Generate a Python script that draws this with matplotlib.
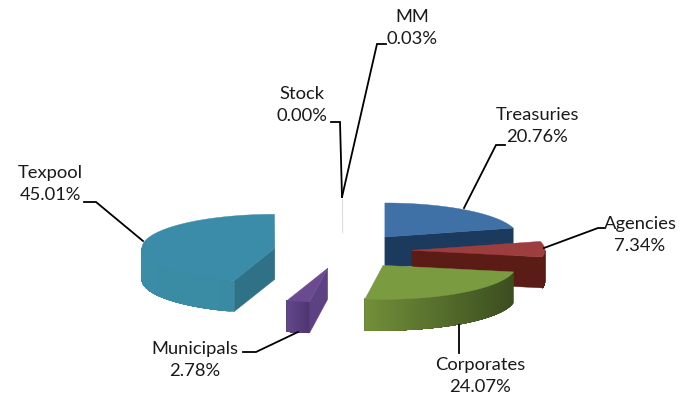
import numpy as np
import matplotlib
matplotlib.use("Agg")
import matplotlib.pyplot as plt
from matplotlib.colors import to_rgb

labels = ["Treasuries", "Agencies", "Corporates", "Municipals", "Texpool", "Stock", "MM"]
shares = [20.76, 7.34, 24.07, 2.78, 45.01, 0.00, 0.03]

top_colors = ["#3f70a6", "#9e3d3e", "#7b9b41", "#6a4b91", "#3b8ca8", "#d9d9d9", "#d9d9d9"]
face_colors = ["#1c3a5e", "#5c1c16", "#445a22", "#5d4283", "#2f7187", "#e6e6e6", "#e6e6e6"]
rim_left = ["#1c3a5e", "#5c1c16", "#73903a", "#62478a", "#3a8da6", "#e6e6e6", "#e6e6e6"]
rim_right = ["#1c3a5e", "#551a14", "#3c4e1f", "#4f3672", "#3a8aa3", "#e6e6e6", "#e6e6e6"]
draw_order = [4, 6, 5, 0, 1, 2, 3]

label_pos = {"MM": (412, 28), "Stock": (302, 105), "Treasuries": (537, 126), "Agencies": (640, 235),
             "Corporates": (480, 376), "Municipals": (195, 360), "Texpool": (50, 184)}
leaders = {"MM": [(342, 197), (377, 44), (386, 44)],
           "Stock": [(342, 197), (340, 122), (331, 122)],
           "Treasuries": [(464, 208), (496, 145), (505, 145)],
           "Agencies": [(544, 248), (598, 228), (604, 228)],
           "Corporates": [(459, 325), (459, 353)],
           "Municipals": [(298, 332), (256, 352), (243, 352)],
           "Texpool": [(143, 241), (96, 202), (84, 202)]}

CX, CY, RX, RY, DEPTH, EXPLODE = 343, 251, 133, 34, 31, 69

fig = plt.figure(figsize=(6.88, 4.0), dpi=100)
ax = fig.add_axes([0, 0, 1, 1])
ax.set_xlim(0, 688)
ax.set_ylim(400, 0)
ax.axis("off")

def pt(theta, r=1.0):
    return RX * r * np.sin(theta), -RY * r * np.cos(theta)

def poly(xs, ys, color, z):
    ax.fill(xs, ys, facecolor=color, edgecolor=color, lw=0.3, zorder=z)

edges = np.radians(np.concatenate([[0], np.cumsum(shares)]) * 3.6)

for z, i in enumerate(draw_order):
    a0, a1 = edges[i], edges[i + 1]
    mid = (a0 + a1) / 2
    dx, dy = pt(mid, EXPLODE / RX)
    ax0, ay0 = CX + dx, CY + dy
    th = np.linspace(a0, a1, 80)
    ex, ey = pt(th)
    ex, ey = ax0 + ex, ay0 + ey
    z0 = 10 * (z + 1)
    # cut faces facing the viewer
    for a in (a0, a1):
        fx, fy = pt(a)
        facing = (a == a1 and a1 <= np.radians(110)) or \
                 (a == a0 and np.pi * 0.99 < a0 < 1.9 * np.pi)
        if facing:
            poly([ax0, ax0 + fx, ax0 + fx, ax0], [ay0, ay0 + fy, ay0 + fy + DEPTH, ay0 + DEPTH],
                 face_colors[i], z0)
    # outer rim on the front half, shaded left to right; each band paints to the end of the
    # rim so that no seams show between bands
    lo, hi = max(a0, np.pi / 2), min(a1, 3 * np.pi / 2)
    if hi > lo:
        rim = np.linspace(lo, hi, 50)
        rx, ry = pt(rim)
        rx, ry = ax0 + rx, ay0 + ry
        cl, cr = np.array(to_rgb(rim_left[i])), np.array(to_rgb(rim_right[i]))
        span = max(rx.max() - rx.min(), 1)
        for k in range(len(rim) - 1):
            t = (rx[k] - rx.min()) / span
            c = tuple(cl + (cr - cl) * t)
            poly(np.r_[rx[k:], rx[k:][::-1]], np.r_[ry[k:], ry[k:][::-1] + DEPTH], c, z0 + 1 + k * 0.001)
    poly(np.r_[ax0, ex], np.r_[ay0, ey], top_colors[i], z0 + 2)

for name, val in zip(labels, shares):
    pts = np.array(leaders[name])
    ax.plot(pts[:, 0], pts[:, 1], color="black", lw=1.3, zorder=200, solid_joinstyle="miter")
    x, y = label_pos[name]
    ax.text(x, y, f"{name}\n{val:.2f}%", ha="center", va="center", family="Lato", fontsize=13.2,
            color="#1a1a1a", linespacing=1.48, zorder=210)

fig.savefig("out.png", dpi=100)
